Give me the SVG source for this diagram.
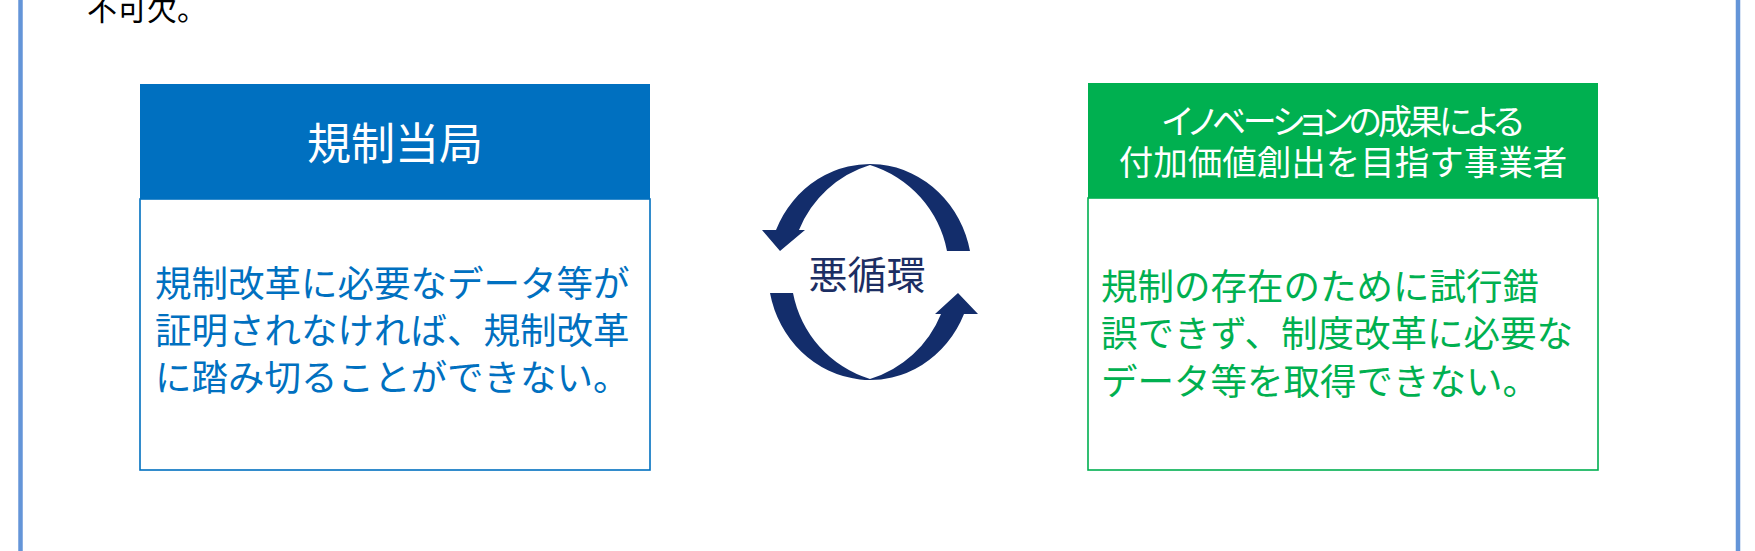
<svg xmlns="http://www.w3.org/2000/svg" width="1755" height="551" viewBox="0 0 1755 551">
  <style>
    text { font-family: "Noto Sans CJK JP", "Noto Sans", sans-serif; }
    .hdr { fill: #ffffff; text-anchor: middle; }
    .blue-body { fill: #0070c0; font-size: 36.5px; }
    .green-body { fill: #00b050; font-size: 36.5px; }
    .frame { stroke: #6495d8; stroke-width: 4.5; }
    .cyc { fill: #132d6b; }
  </style>
  <rect x="0" y="0" width="1755" height="551" fill="#ffffff"/>
  <g id="frame">
    <line class="frame" x1="20.5" y1="0" x2="20.5" y2="551"/>
    <line class="frame" x1="1738" y1="0" x2="1738" y2="551"/>
    <text x="87" y="20" font-size="30" fill="#000000">不可欠。</text>
  </g>
  <g id="regulator">
    <rect x="140" y="199" width="510" height="271" fill="#ffffff" stroke="#0070c0" stroke-width="1.6"/>
    <rect x="140" y="84" width="510" height="115" fill="#0070c0"/>
    <text class="hdr" x="395" y="160" font-size="44">規制当局</text>
    <text class="blue-body" x="155" y="297">規制改革に必要なデータ等が</text>
    <text class="blue-body" x="155" y="344">証明されなければ、規制改革</text>
    <text class="blue-body" x="155" y="391">に踏み切ることができない。</text>
  </g>
  <g id="business">
    <rect x="1088" y="198" width="510" height="272" fill="#ffffff" stroke="#00b050" stroke-width="1.6"/>
    <rect x="1088" y="83" width="510" height="115" fill="#00b050"/>
    <text class="hdr" x="1343" y="134" font-size="34" style="font-feature-settings:'palt'" textLength="362" lengthAdjust="spacing">イノベーションの成果による</text>
    <text class="hdr" x="1343" y="175" font-size="34.5">付加価値創出を目指す事業者</text>
    <text class="green-body" x="1101" y="300">規制の存在のために試行錯</text>
    <text class="green-body" x="1101" y="347">誤できず、制度改革に必要な</text>
    <text class="green-body" x="1101" y="395">データ等を取得できない。</text>
  </g>
  <g id="connectors">
    <path class="cyc" d="M 947,251 L 970,251 A 102 108 0 0 0 776,230 L 762,230 L 780,251 L 805,230 L 799,230 A 112 112 0 0 1 870,165 A 112 112 0 0 1 947,251 Z"/>
    <path class="cyc" d="M 770,293 L 793,293 A 112 112 0 0 0 870,379 A 112 112 0 0 0 941,314 L 935,314 L 958,293 L 978,314 L 964,314 A 102 108 0 0 1 770,293 Z"/>
  </g>
  <g id="cycle-label">
    <text x="867" y="289" font-size="39" fill="#1c2e63" text-anchor="middle">悪循環</text>
  </g>
</svg>
